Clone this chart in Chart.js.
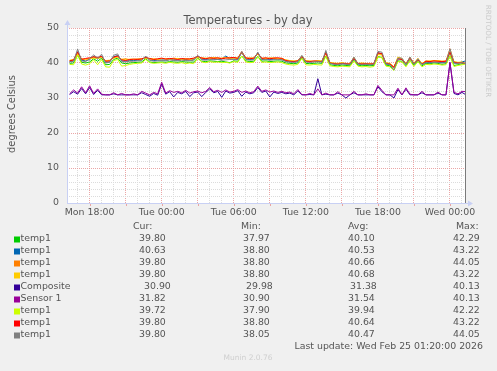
<!DOCTYPE html>
<html>
<head>
<meta charset="utf-8">
<script src="https://cdn.jsdelivr.net/npm/chart.js@4.4.1/dist/chart.umd.min.js"></script>
<style>
  html, body { margin: 0; padding: 0; background: #f0f0f0; }
  canvas { display: block; }
</style>
</head>
<body>
<canvas id="myChart" width="497" height="371"></canvas>
<script>
// minutes relative to Mon 18:00, one sample every 20 min
const startMinute = -100;
const stepMinutes = 20;

const xTickMinutes = [0, 360, 720, 1080, 1440, 1800];
const xTickLabels = ["Mon 18:00", "Tue 00:00", "Tue 06:00", "Tue 12:00", "Tue 18:00", "Wed 00:00"];

const seriesNames = ["temp1", "temp1", "temp1", "temp1", "Composite", "Sensor 1", "temp1", "temp1", "temp1"];
const seriesColors = ["#00CC00", "#0066B3", "#FF8000", "#FFCC00", "#330099", "#990099", "#CCFF00", "#FF0000", "#808080"];

const greenTemp = [
  39.9, 40.0, 42.29, 40.2, 40.0, 40.3, 41.2, 40.5, 41.4, 39.5, 39.6, 41.0, 41.4, 40.0, 39.8, 40.0,
  40.1, 40.2, 40.3, 41.2, 40.3, 40.1, 40.2, 40.3, 40.2, 40.4, 40.3, 40.2, 40.4, 40.3, 40.2,
  40.3, 41.4, 40.5, 40.4, 40.6, 40.5, 40.4, 40.5, 40.3, 40.1, 40.6, 40.5, 42.0, 40.6, 40.4, 40.5, 41.9, 40.5, 40.6, 40.4, 40.5, 40.6, 40.5,
  40.0, 39.9, 39.8, 40.0, 41.4, 39.9, 39.8, 39.9, 40.0, 39.9, 42.0,
  39.5, 39.3, 39.2, 39.4, 39.3, 39.2, 40.8, 39.4, 39.2, 39.3, 39.2, 39.3,
  41.8, 41.6, 39.4, 39.2, 37.97, 40.6, 40.5, 39.2, 40.8, 39.3, 40.5, 39.2,
  39.9, 39.8, 40.0, 39.9, 39.6, 39.8, 42.1, 39.3, 39.5, 39.8, 39.8
];
const blueTemp = [
  40.4, 40.6, 43.22, 40.8, 40.6, 41.0, 41.8, 41.1, 42.0, 40.2, 40.3, 41.8, 42.1, 40.6, 40.5, 40.7,
  40.7, 40.8, 40.9, 41.7, 40.9, 40.7, 40.8, 40.9, 40.8, 41.0, 40.9, 40.8, 41.0, 40.9, 40.8,
  41.0, 41.9, 41.1, 41.0, 41.2, 41.1, 41.0, 41.1, 42.0, 41.2, 41.1, 41.0, 43.0, 41.1, 41.0, 41.1, 42.9, 41.0, 41.1, 41.0, 41.1, 41.2, 41.0,
  40.5, 40.3, 40.3, 40.4, 41.9, 40.4, 40.3, 40.4, 40.5, 40.3, 43.1,
  39.9, 39.7, 39.6, 39.8, 39.7, 39.6, 41.3, 39.7, 39.6, 39.7, 39.5, 39.6,
  42.9, 42.6, 39.7, 39.6, 38.8, 41.2, 41.1, 39.6, 41.5, 39.7, 41.0, 39.6,
  40.2, 40.1, 40.3, 40.2, 40.1, 40.2, 43.1, 40.0, 39.9, 40.3, 40.63
];
const orangeTemp = [
  40.7, 40.8, 42.8, 41.2, 41.1, 41.3, 41.6, 41.5, 41.7, 40.6, 40.7, 41.5, 41.8, 41.0, 41.2, 40.9,
  41.0, 41.2, 41.1, 41.5, 41.2, 41.1, 41.0, 41.3, 41.2, 41.1, 41.4, 41.2, 41.1, 41.3, 41.0,
  41.3, 41.7, 41.5, 41.3, 41.4, 41.6, 41.3, 41.4, 41.6, 41.3, 41.5, 41.4, 42.9, 41.3, 41.5, 41.3, 42.6, 41.4, 41.2, 41.5, 41.3, 41.2, 41.4,
  40.8, 40.6, 40.5, 40.7, 42.0, 40.6, 40.5, 40.4, 40.6, 40.5, 43.0,
  40.1, 39.9, 39.8, 40.0, 39.9, 39.8, 41.5, 39.8, 39.9, 39.8, 39.9, 39.7,
  42.6, 42.5, 40.0, 39.8, 38.8, 41.5, 41.3, 39.8, 41.6, 39.9, 41.2, 39.8,
  40.6, 40.5, 40.7, 40.6, 40.5, 40.6, 44.05, 40.3, 40.1, 40.2, 39.8
];
const yellowTemp = [
  40.8, 41.0, 42.5, 41.1, 40.9, 41.2, 41.4, 41.3, 41.6, 40.7, 40.8, 41.4, 41.6, 41.1, 41.0, 41.1,
  41.1, 41.0, 41.2, 41.4, 41.1, 41.2, 41.1, 41.2, 41.3, 41.0, 41.2, 41.3, 41.0, 41.2, 41.1,
  41.2, 41.6, 41.3, 41.4, 41.3, 41.5, 41.4, 41.3, 41.5, 41.4, 41.3, 41.5, 43.22, 41.4, 41.3, 41.5, 42.5, 41.3, 41.4, 41.3, 41.5, 41.3, 41.2,
  40.9, 40.7, 40.6, 40.5, 41.9, 40.7, 40.6, 40.5, 40.7, 40.6, 42.8,
  40.2, 40.0, 39.9, 40.1, 39.8, 39.9, 41.6, 39.9, 40.0, 39.9, 39.8, 39.8,
  42.4, 42.3, 40.1, 39.9, 38.8, 41.7, 41.2, 39.9, 41.5, 40.0, 41.3, 39.9,
  40.5, 40.6, 40.6, 40.7, 40.5, 40.5, 43.0, 40.4, 40.2, 40.3, 39.8
];
const compositeTemp = [
  31.0, 31.8, 31.1, 32.7, 31.2, 33.0, 31.0, 32.2, 30.9, 30.9, 30.9, 31.2, 30.9, 30.9, 30.9, 30.9,
  30.9, 30.9, 31.5, 31.0, 30.5, 31.3, 30.8, 34.0, 31.1, 31.8, 30.3, 31.6, 31.2, 31.9, 30.4,
  31.5, 31.7, 30.4, 31.6, 32.6, 31.5, 31.9, 30.2, 32.0, 31.4, 31.6, 32.1, 30.5, 31.7, 31.2, 31.5, 33.0, 31.6, 32.0, 30.3, 31.7, 31.3, 31.6,
  31.2, 31.4, 30.9, 32.0, 30.9, 30.9, 31.0, 30.9, 35.5, 30.9, 31.1,
  30.9, 30.9, 31.4, 30.9, 29.98, 30.9, 31.5, 30.9, 30.9, 30.9, 30.9, 30.9,
  33.2, 31.8, 30.9, 30.9, 30.0, 32.4, 30.9, 32.5, 30.9, 30.9, 30.9, 31.5,
  30.9, 30.9, 30.9, 31.4, 30.9, 30.9, 40.13, 31.3, 30.9, 31.6, 30.90
];
const sensor1Temp = [
  31.2, 32.3, 31.4, 33.2, 31.5, 33.5, 31.3, 32.6, 31.1, 30.9, 30.9, 31.5, 30.9, 31.3, 30.9, 30.9,
  31.2, 30.9, 31.9, 31.4, 30.9, 31.6, 31.2, 34.5, 31.4, 32.1, 31.6, 31.9, 31.5, 32.2, 31.4,
  31.8, 32.0, 31.5, 31.9, 33.0, 31.8, 32.2, 31.6, 32.3, 31.7, 31.9, 32.4, 31.6, 32.0, 31.5, 31.8, 33.4, 31.9, 32.3, 31.7, 32.0, 31.6, 31.9,
  31.5, 31.7, 31.2, 32.4, 31.0, 30.9, 31.3, 30.9, 32.6, 30.9, 31.4,
  30.9, 30.9, 31.8, 30.9, 30.9, 30.9, 31.9, 30.9, 30.9, 31.2, 30.9, 30.9,
  33.6, 32.2, 30.9, 30.9, 30.9, 32.8, 30.9, 32.9, 31.1, 30.9, 30.9, 31.9,
  30.9, 30.9, 30.9, 31.7, 30.9, 30.9, 40.13, 31.6, 31.2, 31.9, 31.82
];
const limeTemp = [
  39.6, 39.5, 42.22, 39.7, 39.4, 39.8, 40.9, 39.5, 41.0, 38.9, 38.8, 40.7, 41.0, 39.1, 39.3, 39.6,
  39.8, 39.9, 40.0, 41.0, 40.1, 39.9, 40.0, 40.1, 39.9, 40.2, 40.0, 39.9, 40.1, 39.8, 40.0,
  39.8, 41.3, 40.3, 40.1, 40.4, 40.2, 40.3, 40.1, 40.2, 40.0, 40.4, 40.2, 42.0, 40.3, 40.1, 40.2, 41.8, 40.2, 40.3, 40.1, 40.2, 40.3, 40.1,
  39.7, 39.5, 39.4, 39.6, 41.3, 39.5, 39.4, 39.6, 39.5, 39.4, 41.9,
  39.2, 39.0, 38.9, 39.1, 39.0, 38.9, 40.6, 39.1, 38.9, 39.0, 38.8, 39.0,
  41.7, 41.5, 39.1, 38.9, 37.9, 40.4, 40.3, 38.9, 40.7, 39.0, 40.4, 38.9,
  39.6, 39.5, 39.7, 39.6, 39.4, 39.5, 42.0, 39.0, 39.3, 39.5, 39.72
];
const redTemp = [
  40.6, 40.9, 43.2, 41.0, 41.3, 41.5, 41.8, 41.6, 41.9, 40.5, 40.6, 41.7, 42.0, 40.9, 40.7, 41.0,
  41.1, 41.0, 41.2, 41.6, 41.3, 41.0, 41.2, 41.4, 41.1, 41.3, 41.2, 41.0, 41.3, 41.1, 41.2,
  41.4, 41.9, 41.4, 41.2, 41.5, 41.3, 41.5, 41.2, 41.4, 41.5, 41.6, 41.3, 43.22, 41.5, 41.2, 41.4, 42.8, 41.3, 41.5, 41.2, 41.4, 41.5, 41.3,
  40.7, 40.5, 40.4, 40.6, 41.8, 40.5, 40.4, 40.6, 40.5, 40.4, 42.9,
  40.0, 39.8, 39.7, 39.9, 39.8, 39.7, 41.3, 39.9, 39.7, 39.8, 39.7, 39.8,
  42.9, 42.7, 39.9, 39.7, 38.8, 41.2, 41.0, 39.7, 41.4, 39.8, 40.9, 39.7,
  40.5, 40.4, 40.6, 40.5, 40.4, 40.5, 43.1, 40.2, 40.0, 40.1, 39.8
];
const grayTemp = [
  40.3, 40.5, 44.0, 40.6, 40.4, 41.2, 42.3, 41.4, 42.5, 40.0, 40.2, 42.2, 42.6, 40.4, 40.3, 40.5,
  40.5, 40.6, 40.7, 42.0, 40.8, 40.5, 40.6, 40.7, 40.6, 40.9, 40.7, 40.6, 40.8, 40.7, 40.6,
  40.8, 42.2, 40.9, 40.8, 41.0, 40.9, 41.0, 40.8, 40.9, 41.0, 41.1, 40.9, 43.3, 41.0, 40.8, 40.9, 43.1, 40.9, 41.0, 40.8, 40.9, 41.0, 40.9,
  40.4, 40.3, 40.2, 40.4, 42.2, 40.3, 40.2, 40.3, 40.4, 40.3, 43.6,
  39.9, 39.7, 39.6, 39.8, 39.7, 39.6, 41.7, 39.8, 39.6, 39.7, 39.6, 39.7,
  43.3, 43.1, 39.8, 39.6, 38.05, 41.4, 41.4, 39.6, 41.7, 39.7, 41.2, 39.6,
  40.1, 40.0, 40.2, 40.1, 40.0, 40.1, 44.05, 40.0, 39.9, 40.1, 39.8
];

const seriesValues = [greenTemp, blueTemp, orangeTemp, yellowTemp, compositeTemp, sensor1Temp, limeTemp, redTemp, grayTemp];

// legend table as printed under the graph
const curValues = ["39.80", "40.63", "39.80", "39.80", "30.90", "31.82", "39.72", "39.80", "39.80"];
const minValues = ["37.97", "38.80", "38.80", "38.80", "29.98", "30.90", "37.90", "38.80", "38.05"];
const avgValues = ["40.10", "40.53", "40.66", "40.68", "31.38", "31.54", "39.94", "40.64", "40.47"];
const maxValues = ["42.29", "43.22", "44.05", "43.22", "40.13", "40.13", "42.22", "43.22", "44.05"];

const FONT = "DejaVu Sans";
const TEXT = "#555555";
const MAJOR = "rgba(232,150,150,0.85)";
const MINOR = "#dcdcdc";

function isMajorX(v) { return ((v % 180) + 180) % 180 === 0; }

const datasets = seriesValues.map((vals, k) => ({
  label: seriesNames[k],
  data: vals.map((v, i) => ({ x: startMinute + i * stepMinutes, y: v })),
  borderColor: seriesColors[k],
  backgroundColor: seriesColors[k],
  borderWidth: 1,
  pointRadius: 0,
  tension: 0,
  order: seriesValues.length - 1 - k
}));

const munin = {
  id: "munin",
  beforeDraw(chart) {
    const c = chart.ctx, a = chart.chartArea;
    c.save();
    c.fillStyle = "#f0f0f0";
    c.fillRect(0, 0, chart.width, chart.height);
    c.fillStyle = "#ffffff";
    c.fillRect(a.left, a.top, a.right - a.left, a.bottom - a.top);
    c.restore();
  },
  afterDraw(chart) {
    const c = chart.ctx, a = chart.chartArea;
    const xs = chart.scales.x;
    c.save();
    // small red ticks under the time axis
    c.strokeStyle = MAJOR;
    c.lineWidth = 1;
    c.beginPath();
    for (let m = 0; m <= 1800; m += 180) {
      const px = Math.round(xs.getPixelForValue(m)) + 0.5;
      c.moveTo(px, a.bottom);
      c.lineTo(px, a.bottom + 3);
    }
    c.stroke();
    // axes
    c.strokeStyle = "#c8d0f4";
    c.fillStyle = "#c8d0f4";
    c.beginPath();
    c.moveTo(a.left + 0.5, a.bottom);
    c.lineTo(a.left + 0.5, a.top - 4);
    c.moveTo(a.left, a.bottom + 0.5);
    c.lineTo(a.right + 4, a.bottom + 0.5);
    c.stroke();
    c.beginPath();
    c.moveTo(a.left - 2.5, a.top - 3);
    c.lineTo(a.left + 3.5, a.top - 3);
    c.lineTo(a.left + 0.5, a.top - 8);
    c.closePath();
    c.fill();
    c.beginPath();
    c.moveTo(a.right + 2, a.bottom - 2.5);
    c.lineTo(a.right + 2, a.bottom + 3.5);
    c.lineTo(a.right + 7, a.bottom + 0.5);
    c.closePath();
    c.fill();
    c.strokeStyle = "#7a7a7a";
    c.beginPath();
    c.moveTo(a.right - 0.5, a.top);
    c.lineTo(a.right - 0.5, a.bottom);
    c.stroke();

    // title
    c.fillStyle = TEXT;
    c.textBaseline = "middle";
    c.textAlign = "center";
    c.font = "11.5px " + FONT;
    c.fillText("Temperatures - by day", 248, 21);

    // y axis title
    c.save();
    c.translate(12, 114);
    c.rotate(-Math.PI / 2);
    c.font = "9.9px " + FONT;
    c.fillText("degrees Celsius", 0, 0);
    c.restore();

    // watermark
    c.save();
    c.translate(488, 51);
    c.rotate(Math.PI / 2);
    c.fillStyle = "#cccccc";
    c.font = "7.2px " + FONT;
    c.fillText("RRDTOOL / TOBI OETIKER", 0, 0);
    c.restore();

    // legend
    c.font = "9.4px " + FONT;
    c.textAlign = "left";
    c.fillStyle = TEXT;
    c.fillText("Cur:", 133, 227);
    c.fillText("Min:", 241, 227);
    c.fillText("Avg:", 348, 227);
    c.fillText("Max:", 456, 227);
    for (let k = 0; k < seriesNames.length; k++) {
      const y = 239 + k * 12;
      const shift = seriesNames[k] === "Composite" ? [5, 3, 2] : [0, 0, 0];
      c.fillStyle = seriesColors[k];
      c.fillRect(14, y - 2.5, 6, 6);
      c.fillStyle = TEXT;
      c.fillText(seriesNames[k], 20.5, y);
      c.fillText(curValues[k], 139 + shift[0], y);
      c.fillText(minValues[k], 243 + shift[1], y);
      c.fillText(avgValues[k], 348 + shift[2], y);
      c.fillText(maxValues[k], 453, y);
    }
    c.textAlign = "right";
    c.fillText("Last update: Wed Feb 25 01:20:00 2026", 483, 347);
    c.textAlign = "center";
    c.fillStyle = "#cfcfcf";
    c.font = "7.5px " + FONT;
    c.fillText("Munin 2.0.76", 248, 358);
    c.restore();
  }
};

new Chart(document.getElementById("myChart"), {
  type: "line",
  data: { datasets: datasets },
  plugins: [munin],
  options: {
    responsive: false,
    animation: false,
    devicePixelRatio: 1,
    layout: { padding: { left: 0, top: 28, right: 31, bottom: 148 } },
    plugins: { legend: { display: false }, tooltip: { enabled: false } },
    scales: {
      x: {
        type: "linear",
        min: -113,
        max: 1880,
        afterBuildTicks: (scale) => {
          const ticks = [];
          for (let m = -60; m <= 1860; m += 60) ticks.push({ value: m });
          scale.ticks = ticks;
        },
        afterFit: (scale) => { scale.height = 20; },
        border: { display: false, dash: [1, 1] },
        grid: {
          drawTicks: false,
          color: (ctx) => isMajorX(ctx.tick.value) ? MAJOR : MINOR
        },
        ticks: {
          autoSkip: false,
          maxRotation: 0,
          padding: 4,
          color: TEXT,
          font: { family: FONT, size: 9.4 },
          callback: (v) => {
            const i = xTickMinutes.indexOf(v);
            return i >= 0 ? xTickLabels[i] : "";
          }
        }
      },
      y: {
        min: 0,
        max: 50,
        afterBuildTicks: (scale) => {
          const ticks = [];
          for (let v = 0; v <= 50; v += 2) ticks.push({ value: v });
          scale.ticks = ticks;
        },
        afterFit: (scale) => { scale.width = 67; },
        border: { display: false, dash: [1, 1] },
        grid: {
          drawTicks: false,
          color: (ctx) => ctx.tick.value % 10 === 0 ? MAJOR : MINOR
        },
        ticks: {
          autoSkip: false,
          padding: 8,
          color: TEXT,
          font: { family: FONT, size: 9.4 },
          callback: (v) => v % 10 === 0 ? String(v) : ""
        }
      }
    }
  }
});
</script>
</body>
</html>
